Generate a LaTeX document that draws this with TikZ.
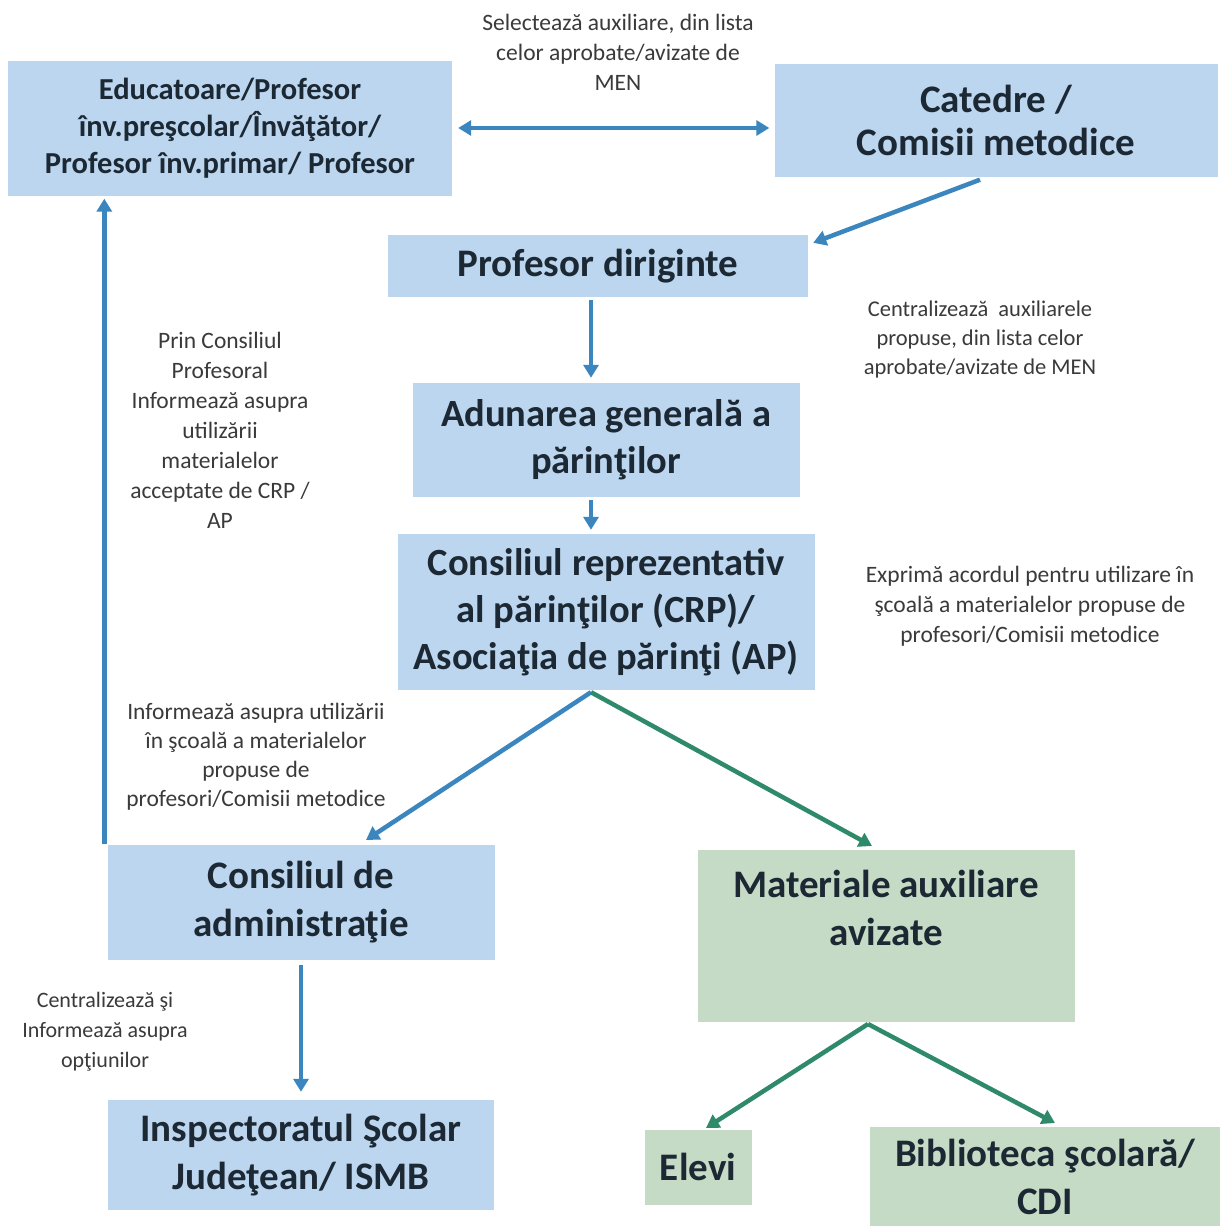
\documentclass[tikz,border=0pt]{standalone}
\usepackage{fontspec}
\setmainfont{Carlito}
\usetikzlibrary{arrows.meta}
\definecolor{bfill}{HTML}{BBD6EE}
\definecolor{gfill}{HTML}{C6DBC5}
\definecolor{barc}{HTML}{3B86BE}
\definecolor{garc}{HTML}{2F8A6A}
\definecolor{boxtext}{HTML}{1C2833}
\definecolor{lbltext}{HTML}{3A3A3A}
\begin{document}
\begin{tikzpicture}[x=1pt,y=-1pt,
  box/.style={fill=bfill, draw=none, inner sep=0pt, align=center, text=boxtext},
  gbox/.style={box, fill=gfill},
  bigf/.style={font=\bfseries\fontsize{39}{48}\selectfont},
  lbl/.style={align=center, inner sep=0pt, text=lbltext, font=\fontsize{23.5}{30}\selectfont},
  barrow/.style={draw=barc, line width=4.5pt, -{Triangle[length=13pt,width=15pt]}},
  bdarrow/.style={draw=barc, line width=4.5pt, {Triangle[length=13pt,width=15pt]}-{Triangle[length=13pt,width=15pt]}},
  garrow/.style={draw=garc, line width=4.5pt, -{Triangle[length=13pt,width=15pt]}}]
\useasboundingbox (0,0) rectangle (1225,1226);
\fill[white] (0,0) rectangle (1225,1226);

% boxes
\node[box, minimum width=444pt, minimum height=135pt, font=\bfseries\fontsize{30.5}{37}\selectfont] (edu) at (230,128)
  {Educatoare/Profesor\\ înv.preşcolar/Învăţător/\\ Profesor înv.primar/ Profesor};
\node[box, minimum width=443pt, minimum height=113pt, font=\bfseries\fontsize{39}{43}\selectfont] (cat) at (996,120)
  {Catedre /\\ Comisii metodice};
\node[box, bigf, minimum width=420pt, minimum height=62pt] (dir) at (598,266) {Profesor diriginte};
\node[box, minimum width=387pt, minimum height=114pt, font=\bfseries\fontsize{38.5}{47}\selectfont] (adu) at (606,440) {Adunarea generală a\\ părinţilor};
\node[box, minimum width=417pt, minimum height=156pt, font=\bfseries\fontsize{38.5}{47}\selectfont] (crp) at (606,612)
  {Consiliul reprezentativ\\ al părinţilor (CRP)/\\ Asociaţia de părinţi (AP)};
\node[box, bigf, minimum width=387pt, minimum height=115pt] (cad) at (301,902) {Consiliul de\\ administraţie};
\node[box, bigf, minimum width=386pt, minimum height=110pt] (isj) at (301,1155) {Inspectoratul Şcolar\\ Judeţean/ ISMB};
\node[gbox, minimum width=377pt, minimum height=172pt] (mat) at (886,936) {};
\node[bigf, align=center, inner sep=0pt, text=boxtext] (mattext) at (886,908) {Materiale auxiliare\\ avizate};
\node[gbox, bigf, minimum width=107pt, minimum height=75pt] (elv) at (698,1167) {Elevi};
\node[gbox, bigf, minimum width=350pt, minimum height=99pt, anchor=north] (bib) at (1045,1127) {Biblioteca şcolară/\\ CDI};

% labels
\node[lbl] (l1) at (618,52) {Selectează auxiliare, din lista\\ celor aprobate/avizate de\\ MEN};
\node[lbl, font=\fontsize{22.5}{29}\selectfont] (l2) at (980,339) {Centralizează\ \ auxiliarele\\ propuse, din lista celor\\ aprobate/avizate de MEN};
\node[lbl] (l3) at (1030,606) {Exprimă acordul pentru utilizare în\\ şcoală a materialelor propuse de\\ profesori/Comisii metodice};
\node[lbl] (l4) at (220,430) {Prin Consiliul\\ Profesoral\\ Informează asupra\\ utilizării\\ materialelor\\ acceptate de CRP /\\ AP};
\node[lbl, font=\fontsize{23.5}{29}\selectfont] (l5) at (256,757) {Informează asupra utilizării\\ în şcoală a materialelor\\ propuse de\\ profesori/Comisii metodice};
\node[lbl, font=\fontsize{22}{30}\selectfont] (l6) at (105,1032) {Centralizează şi\\ Informează asupra\\ opţiunilor};

% helper coordinates
\coordinate (colA) at (591,0);
\coordinate (tipcad) at (366,840);
\coordinate (tipmat) at (872,846);
\coordinate (matfoot) at (868,1024);
\coordinate (tipelv) at (706,1128);
\coordinate (tipbib) at (1055,1123);

% connectors
\draw[bdarrow] ([xshift=6pt]edu.east) -- ([xshift=-5pt]cat.west |- edu.east);
\draw[barrow] ([xshift=-16pt,yshift=-3pt]cat.south) -- ([xshift=5pt,yshift=-8pt]dir.north east);
\draw[barrow] ([yshift=-3pt]dir.south -| colA) -- ([yshift=5pt]adu.north -| colA);
\draw[barrow] ([yshift=-3pt]adu.south -| colA) -- ([yshift=4pt]crp.north -| colA);
\draw[barrow] ([yshift=-2pt]crp.south -| colA) -- (tipcad);
\draw[garrow] ([yshift=-2pt]crp.south -| colA) -- (tipmat);
\draw[barrow] ([xshift=-3pt]cad.north west) -- ([xshift=-3pt,yshift=-3pt]cad.north west |- edu.south);
\draw[barrow] ([yshift=-5pt]cad.south) -- ([yshift=8pt]isj.north);
\draw[garrow] (matfoot) -- (tipelv);
\draw[garrow] (matfoot) -- (tipbib);
\end{tikzpicture}
\end{document}
